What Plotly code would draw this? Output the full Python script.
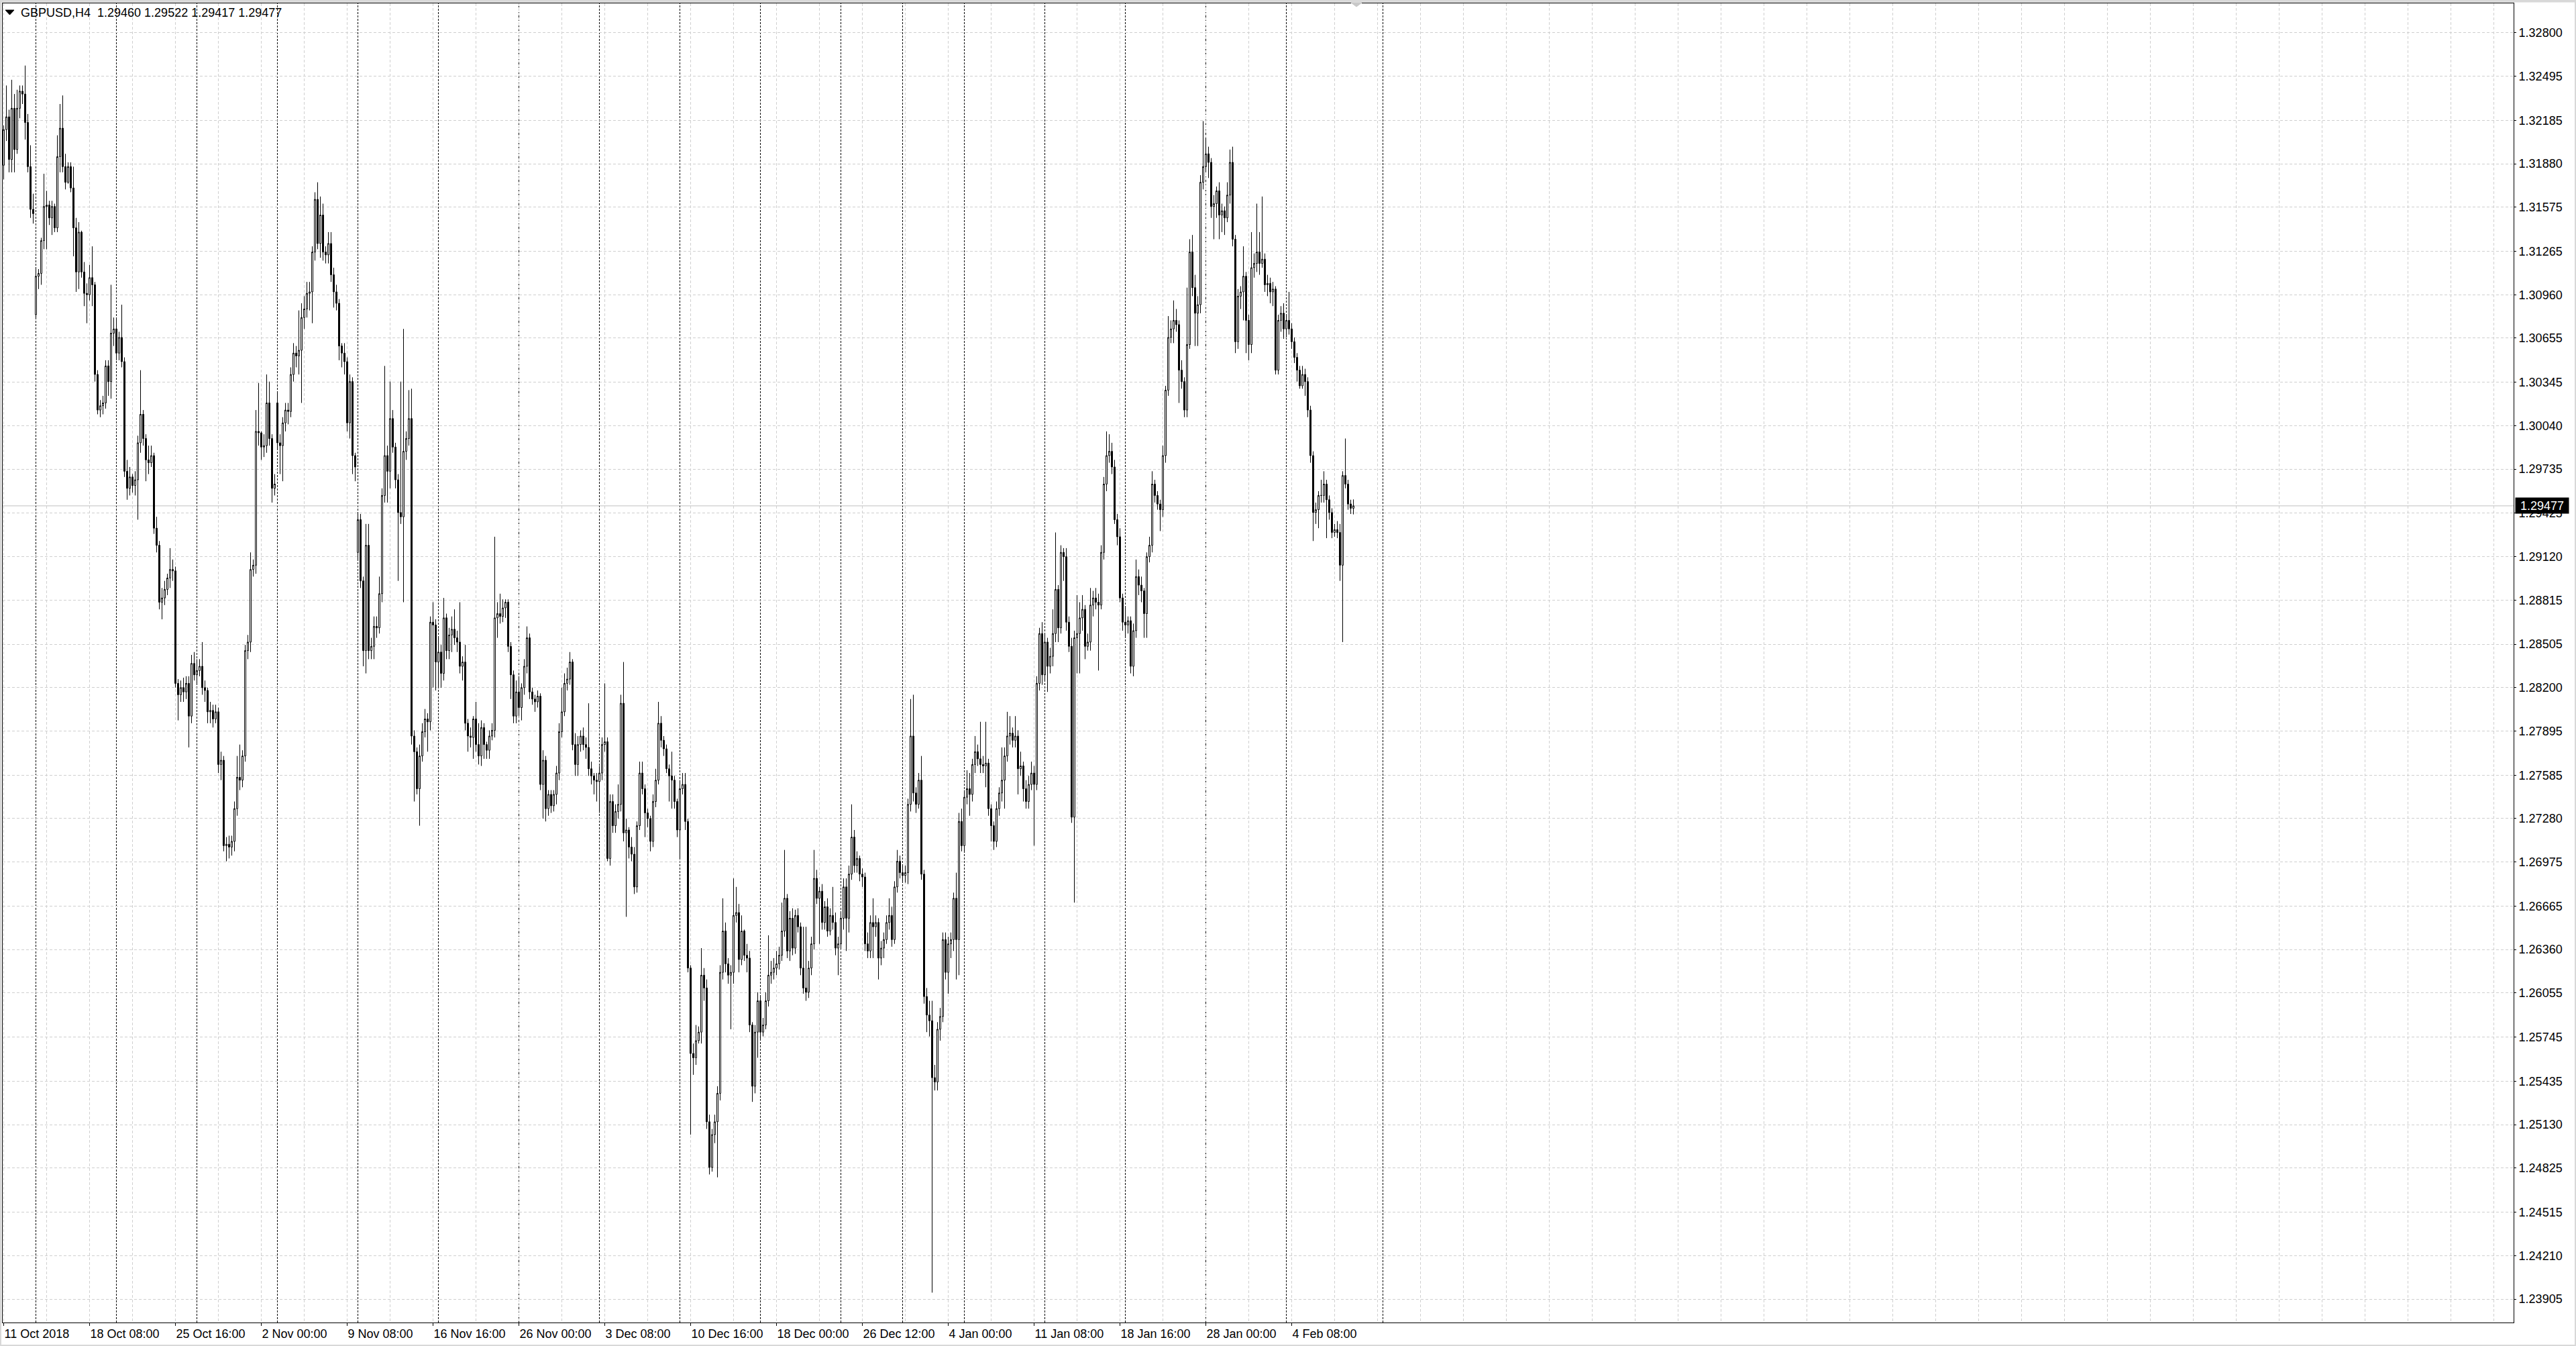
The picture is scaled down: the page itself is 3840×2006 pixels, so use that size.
import plotly.graph_objects as go

# ---------------- data (prices x 10^4), one candle per H4 bar ----------------
open_ = [
    # 11-12 Oct
    13187,13212,13221,13191,13227,13198,13227,13239,13237,13217,13186,13156,
    # 15-19 Oct
    13082,13109,13111,13134,13158,13159,13150,13158,13143,13193,13213,13186,13175,13186,13171,13143,13112,13140,13112,13097,13096,13108,13103,13040,13015,13018,13020,13046,13035,13069,
    # 22-26 Oct
    13072,13055,13066,13049,12972,12960,12968,12962,12966,12992,13012,12995,12980,12978,12983,12932,12920,12880,12883,12889,12897,12903,12902,12823,12815,12820,12817,12823,12800,12837,
    # 29 Oct - 2 Nov
    12829,12832,12835,12820,12818,12803,12804,12798,12803,12766,12769,12709,12710,12708,12712,12735,12757,12755,12772,12846,12852,12903,12906,13000,12999,12989,12990,13020,12995,12960,
    # 5-9 Nov
    13020,12992,12990,13006,13015,13014,13040,13055,13053,13057,13080,13086,13097,13098,13126,13163,13132,13152,13126,13124,13132,13110,13098,13090,13060,13055,13049,13006,13035,12983,
    # 12-16 Nov
    12915,12938,12895,12846,12920,12846,12849,12863,12862,12886,12955,12983,12972,13009,12989,12966,12943,12940,12986,12995,13009,12786,12775,12749,12772,12789,12798,12796,12866,12864,
    # 19-23 Nov
    12838,12845,12830,12869,12846,12857,12861,12855,12852,12835,12838,12795,12786,12785,12798,12780,12772,12792,12780,12776,12786,12790,12869,12872,12870,12876,12880,12849,12829,12800,
    # 26-30 Nov
    12817,12806,12820,12835,12855,12817,12812,12810,12814,12752,12769,12735,12745,12737,12745,12760,12789,12803,12823,12826,12838,12780,12766,12780,12786,12780,12778,12763,12758,12755,
    # 3-7 Dec
    12754,12760,12780,12782,12700,12740,12723,12733,12738,12809,12718,12720,12708,12703,12680,12723,12760,12749,12732,12728,12712,12740,12755,12795,12783,12777,12763,12758,12755,12740,
    # 10-14 Dec
    12720,12749,12752,12726,12623,12563,12560,12572,12578,12618,12609,12515,12483,12506,12515,12535,12620,12649,12626,12618,12620,12660,12662,12629,12649,12632,12630,12583,12540,12578,
    # 17-21 Dec
    12600,12578,12583,12600,12618,12620,12623,12626,12632,12649,12672,12635,12658,12637,12660,12652,12623,12609,12606,12623,12640,12686,12672,12677,12655,12666,12649,12660,12655,12637,
    # 24-28 Dec
    12640,12658,12680,12658,12689,12715,12695,12700,12689,12687,12640,12635,12655,12652,12655,12630,12637,12643,12655,12660,12643,12680,12698,
    # 31 Dec - 4 Jan
    12690,12688,12690,12738,12786,12746,12738,12755,12689,12603,12590,12586,12546,12543,12580,12589,12643,12620,12640,12643,12672,12643,12726,
    # 7-11 Jan
    12709,12743,12749,12745,12766,12775,12770,12766,12765,12767,12735,12723,12712,12735,12746,12755,12772,12786,12788,12783,12786,12763,12765,12749,12740,12752,12760,12752,12823,12858,
    # 14-18 Jan
    12829,12852,12835,12842,12858,12889,12862,12915,12912,12866,12849,12729,12855,12858,12869,12875,12849,12852,12878,12883,12880,12878,12915,12963,12983,12986,12975,12938,12926,12883,
    # 21-25 Jan
    12866,12864,12867,12835,12860,12898,12892,12888,12872,12912,12920,12963,12955,12949,12945,12983,13029,13066,13072,13078,13075,13043,13035,13015,13061,13126,13101,13083,13089,13175,
    # 28 Jan - 1 Feb
    13186,13195,13189,13158,13160,13169,13152,13155,13150,13166,13189,13135,13063,13095,13098,13109,13078,13061,13115,13118,13126,13118,13121,13103,13104,13098,13100,13043,13078,13083,
    # 4-8 Feb
    13072,13078,13072,13063,13052,13043,13032,13040,13035,13015,12983,12943,12945,12955,12955,12963,12952,12943,12929,12931,12929,12906,12969,12963,12949,12946.0,
]
high = [
    13215,13243,13226,13247,13237,13240,13243,13243,13257,13223,13201,13167,
    13114,13114,13136,13181,13169,13162,13162,13160,13208,13230,13236,13195,13189,13189,13186,13150,13147,13141,13119,13104,13117,13130,13105,13043,13022,13025,13050,13050,13103,13080,
    13080,13070,13089,13052,12980,12975,12970,12972,12997,13043,13015,12998,12990,12990,12985,12940,12923,12890,12895,12900,12918,12910,12905,12826,12825,12827,12828,12828,12843,12845,
    12840,12840,12852,12825,12820,12810,12808,12808,12806,12775,12772,12715,12716,12716,12740,12772,12780,12776,12850,12857,12915,12910,13015,13034,13000,12998,13040,13035,12998,12970,
    13027,12998,13010,13020,13020,13045,13062,13060,13085,13090,13095,13105,13105,13130,13168,13175,13165,13160,13130,13140,13140,13115,13103,13093,13062,13062,13052,13040,13038,12985,
    12942,12942,12898,12935,12935,12855,12870,12870,12898,12960,13046,12990,13035,13015,12992,12970,13035,13072,13000,13029,13030,12790,12778,12780,12795,12805,12802,12870,12880,12868,
    12855,12850,12883,12872,12862,12870,12875,12860,12880,12842,12850,12798,12792,12800,12810,12795,12797,12795,12782,12790,12795,12926,12880,12886,12882,12882,12882,12852,12832,12825,
    12828,12823,12840,12863,12858,12820,12815,12818,12816,12776,12772,12748,12748,12748,12765,12795,12820,12830,12834,12845,12840,12788,12786,12790,12792,12785,12809,12768,12760,12760,
    12765,12785,12823,12785,12745,12745,12738,12752,12815,12838,12728,12722,12715,12708,12726,12768,12768,12752,12735,12730,12745,12763,12810,12800,12786,12780,12766,12775,12758,12742,
    12755,12760,12760,12728,12625,12570,12583,12582,12637,12623,12615,12520,12510,12520,12540,12625,12672,12655,12630,12625,12686,12680,12668,12660,12650,12640,12635,12585,12583,12606,
    12603,12588,12606,12646,12628,12630,12635,12638,12669,12706,12675,12663,12665,12664,12665,12655,12652,12652,12628,12645,12706,12692,12680,12682,12670,12672,12665,12680,12662,12645,
    12662,12686,12686,12695,12738,12720,12705,12702,12693,12690,12648,12660,12672,12660,12658,12642,12648,12660,12672,12666,12684,12706,12702,
    12695,12695,12742,12812,12815,12750,12760,12772,12692,12609,12600,12600,12555,12585,12595,12648,12648,12645,12648,12676,12690,12732,12735,
    12748,12762,12760,12770,12786,12780,12796,12772,12796,12770,12738,12726,12740,12750,12778,12778,12803,12800,12792,12800,12790,12775,12768,12755,12758,12768,12765,12828,12862,12866,
    12858,12855,12848,12875,12929,12892,12920,12918,12918,12870,12855,12860,12885,12880,12885,12878,12858,12890,12888,12890,12886,12920,12968,13000,12998,12992,12980,12942,12932,12886,
    12876,12870,12870,12865,12910,12903,12898,12890,12915,12926,12972,12966,12958,12952,12990,13032,13081,13078,13092,13086,13078,13050,13038,13101,13135,13138,13110,13095,13180,13218,
    13206,13200,13192,13166,13172,13175,13160,13158,13175,13198,13200,13138,13100,13102,13130,13112,13082,13140,13125,13160,13140,13165,13125,13110,13108,13105,13102,13082,13088,13090,
    13082,13098,13076,13066,13055,13046,13046,13044,13038,13018,12986,12950,12958,12966,12972,12966,12955,12946,12935,12937,12935,12972,12995,12966,12952,12952.2,
]
low = [
    13177,13204,13182,13182,13182,13195,13220,13230,13205,13182,13150,13146,
    13080,13100,13103,13128,13128,13145,13138,13140,13140,13182,13182,13170,13174,13168,13123,13098,13100,13108,13088,13076,13092,13088,13035,13012,13010,13012,13016,13025,13023,13060,
    13050,13050,13045,12968,12952,12955,12957,12955,12938,12985,12990,12965,12970,12975,12928,12915,12875,12868,12878,12885,12890,12895,12820,12797,12810,12810,12812,12778,12795,12825,
    12822,12828,12815,12810,12795,12795,12792,12795,12760,12755,12705,12698,12700,12702,12705,12730,12748,12750,12768,12840,12845,12898,12900,12990,12980,12982,12985,12990,12950,12955,
    12988,12970,12965,13000,13005,13010,13035,13045,13040,13020,13072,13080,13085,13076,13120,13128,13122,13120,13118,13118,13105,13087,13085,13050,13045,13040,13000,12995,12970,12965,
    12910,12890,12835,12830,12840,12840,12840,12855,12858,12880,12950,12950,12960,12985,12960,12895,12935,12880,12980,12990,12780,12740,12745,12723,12768,12785,12775,12790,12820,12818,
    12820,12820,12825,12840,12840,12845,12850,12845,12830,12825,12790,12775,12778,12770,12775,12766,12765,12770,12770,12770,12783,12785,12855,12865,12866,12869,12845,12812,12795,12795,
    12800,12797,12815,12830,12812,12808,12803,12806,12748,12728,12726,12730,12732,12733,12738,12755,12785,12800,12818,12822,12776,12758,12758,12775,12776,12770,12758,12752,12745,12740,
    12732,12755,12775,12698,12695,12718,12718,12728,12733,12712,12659,12700,12698,12675,12676,12720,12745,12715,12722,12705,12708,12736,12752,12778,12772,12760,12740,12735,12735,12715,
    12700,12745,12720,12620,12506,12548,12555,12570,12570,12600,12510,12478,12480,12500,12476,12530,12615,12620,12612,12580,12612,12655,12620,12625,12628,12620,12578,12529,12535,12560,
    12572,12575,12580,12596,12612,12615,12618,12622,12628,12645,12630,12628,12632,12633,12648,12618,12605,12600,12602,12618,12636,12668,12640,12650,12650,12645,12646,12650,12632,12618,
    12636,12650,12635,12648,12685,12690,12690,12684,12680,12635,12630,12630,12630,12645,12615,12625,12630,12640,12650,12638,12640,12676,12686,
    12684,12683,12682,12733,12740,12732,12735,12685,12598,12578,12575,12395,12537,12537,12572,12585,12615,12605,12630,12635,12615,12618,12705,
    12705,12738,12730,12740,12760,12765,12760,12760,12750,12730,12712,12706,12708,12730,12740,12735,12768,12780,12778,12778,12745,12758,12740,12735,12735,12748,12709,12748,12818,12822,
    12825,12817,12830,12835,12852,12852,12858,12895,12860,12845,12725,12669,12830,12830,12860,12840,12846,12846,12870,12875,12832,12875,12910,12958,12978,12970,12935,12920,12880,12860,
    12855,12858,12830,12828,12855,12885,12880,12855,12855,12908,12915,12950,12945,12930,12940,12978,13025,13062,13062,13070,13020,13030,13010,13010,13058,13095,13060,13060,13083,13170,
    13182,13178,13150,13135,13150,13135,13140,13138,13147,13160,13130,13055,13058,13086,13078,13055,13050,13055,13108,13112,13110,13115,13098,13095,13090,13088,13040,13040,13070,13065,
    13066,13068,13058,13048,13035,13030,13030,13025,13010,12978,12923,12935,12932,12950,12950,12925,12938,12925,12926,12925,12895,12852,12960,12945,12942,12941.7,
]
close = [
    13212,13221,13191,13227,13198,13227,13239,13237,13217,13186,13156,13153,
    13109,13111,13134,13158,13159,13150,13158,13143,13193,13213,13186,13175,13186,13171,13143,13112,13140,13112,13097,13096,13108,13103,13040,13015,13018,13020,13046,13035,13069,13072,
    13055,13066,13049,12972,12960,12968,12962,12966,12992,13012,12995,12980,12978,12983,12932,12920,12880,12883,12889,12897,12903,12902,12823,12815,12820,12817,12823,12800,12837,12829,
    12832,12835,12820,12818,12803,12804,12798,12803,12766,12769,12709,12710,12708,12712,12735,12757,12755,12772,12846,12852,12903,12906,13000,12999,12989,12990,13020,12995,12960,12963,
    12992,12990,13006,13015,13014,13040,13055,13053,13057,13080,13086,13097,13098,13126,13163,13132,13152,13126,13124,13132,13110,13098,13090,13060,13055,13049,13006,13035,12983,12975,
    12938,12895,12846,12920,12846,12849,12863,12862,12886,12955,12983,12972,13009,12989,12966,12943,12940,12986,12995,13009,12786,12775,12749,12772,12789,12798,12796,12866,12864,12838,
    12845,12830,12869,12846,12857,12861,12855,12852,12835,12838,12795,12786,12785,12798,12780,12772,12792,12780,12776,12786,12790,12869,12872,12870,12876,12880,12849,12829,12800,12817,
    12806,12820,12835,12855,12817,12812,12810,12814,12752,12769,12735,12745,12737,12745,12760,12789,12803,12823,12826,12838,12780,12766,12780,12786,12780,12778,12763,12758,12755,12754,
    12760,12780,12782,12700,12740,12723,12733,12738,12809,12718,12720,12708,12703,12680,12723,12760,12749,12732,12728,12712,12740,12755,12795,12783,12777,12763,12758,12755,12740,12720,
    12749,12752,12726,12623,12563,12560,12572,12578,12618,12609,12515,12483,12506,12515,12535,12620,12649,12626,12618,12620,12660,12662,12629,12649,12632,12630,12583,12540,12578,12600,
    12578,12583,12600,12618,12620,12623,12626,12632,12649,12672,12635,12658,12637,12660,12652,12623,12609,12606,12623,12640,12686,12672,12677,12655,12666,12649,12660,12655,12637,12640,
    12658,12680,12658,12689,12715,12695,12700,12689,12687,12640,12635,12655,12652,12655,12630,12637,12643,12655,12660,12643,12680,12698,12690,
    12688,12690,12738,12786,12746,12738,12755,12689,12603,12590,12586,12546,12543,12580,12589,12643,12620,12640,12643,12672,12643,12726,12709,
    12743,12749,12745,12766,12775,12770,12766,12765,12767,12735,12723,12712,12735,12746,12755,12772,12786,12788,12783,12786,12763,12765,12749,12740,12752,12760,12752,12823,12858,12829,
    12852,12835,12842,12858,12889,12862,12915,12912,12866,12849,12729,12855,12858,12869,12875,12849,12852,12878,12883,12880,12878,12915,12963,12983,12986,12975,12938,12926,12883,12866,
    12864,12867,12835,12860,12898,12892,12888,12872,12912,12920,12963,12955,12949,12945,12983,13029,13066,13072,13078,13075,13043,13035,13015,13061,13126,13101,13083,13089,13175,13186,
    13195,13189,13158,13160,13169,13152,13155,13150,13166,13189,13135,13063,13095,13098,13109,13078,13061,13115,13118,13126,13118,13121,13103,13104,13098,13100,13043,13078,13083,13072,
    13078,13072,13063,13052,13043,13032,13040,13035,13015,12983,12943,12945,12955,12955,12963,12952,12943,12929,12931,12929,12906,12969,12963,12949,12946,12947.7,
]

price_ticks = [1.32800, 1.32495, 1.32185, 1.31880, 1.31575, 1.31265, 1.30960, 1.30655,
               1.30345, 1.30040, 1.29735, 1.29425, 1.29120, 1.28815, 1.28505, 1.28200,
               1.27895, 1.27585, 1.27280, 1.26975, 1.26665, 1.26360, 1.26055, 1.25745,
               1.25435, 1.25130, 1.24825, 1.24515, 1.24210, 1.23905]
time_tick_bars = [0, 32, 64, 96, 128, 160, 192, 224, 256, 288, 320, 352, 384, 416, 448, 480]
time_tick_text = ["11 Oct 2018", "18 Oct 08:00", "25 Oct 16:00", "2 Nov 00:00", "9 Nov 08:00",
                  "16 Nov 16:00", "26 Nov 00:00", "3 Dec 08:00", "10 Dec 16:00", "18 Dec 00:00",
                  "26 Dec 12:00", "4 Jan 00:00", "11 Jan 08:00", "18 Jan 16:00", "28 Jan 00:00",
                  "4 Feb 08:00"]
week_start_bars = [12, 42, 72, 102, 132, 162, 192, 222, 252, 282, 312, 335, 358, 388, 418, 448, 478, 514]
symbol = "GBPUSD,H4"
last_ohlc = ["1.29460", "1.29522", "1.29417", "1.29477"]
bid_price = 1.29477

# ---------------- build ----------------
n = len(open_)
assert n == len(high) == len(low) == len(close)
SCALE = 10000.0
o = [v / SCALE for v in open_]
c = [v / SCALE for v in close]
h = [max(a, b, d) / SCALE for a, b, d in zip(high, open_, close)]
l = [min(a, b, d) / SCALE for a, b, d in zip(low, open_, close)]
x = list(range(n))

W, H = 3840, 2006
ML, MR, MT, MB = 4, 93, 5, 35
PW = W - ML - MR
PH = H - MT - MB
BAR_PX = 4.0
X0 = -0.375
XRANGE = [X0, X0 + PW / BAR_PX]
YRANGE = [1.23740, 1.33007]

FONT = "Liberation Sans, Arial, sans-serif"
FS = 18
GRID = "#cfcfcf"


def px_x(p):
    return (p - ML) / PW


def px_y(r):
    return (H - MB - r) / PH


fig = go.Figure(go.Candlestick(
    x=x, open=o, high=h, low=l, close=c,
    increasing=dict(line=dict(color="black", width=1), fillcolor="white"),
    decreasing=dict(line=dict(color="black", width=1), fillcolor="black"),
    whiskerwidth=0, hoverinfo="none", showlegend=False,
))

minor_vals = [v for v in range(0, 940, 16) if v not in time_tick_bars]

shapes = []
# weekly period separators
for b in week_start_bars:
    shapes.append(dict(type="line", xref="x", yref="paper", x0=b, x1=b, y0=0, y1=1,
                       line=dict(color="black", width=1, dash="3px,2px"), layer="between"))
# bid line
shapes.append(dict(type="line", xref="paper", yref="y", x0=0, x1=1, y0=bid_price, y1=bid_price,
                   line=dict(color="#c0c0c0", width=1), layer="between"))
# window frame strips
frame = "#d8d8d8"
shapes += [
    dict(type="rect", xref="paper", yref="paper", x0=px_x(0), x1=px_x(W), y0=px_y(0), y1=px_y(3.5),
         fillcolor=frame, line=dict(width=0), layer="above"),
    dict(type="rect", xref="paper", yref="paper", x0=px_x(W - 2), x1=px_x(W), y0=px_y(0), y1=px_y(H),
         fillcolor=frame, line=dict(width=0), layer="above"),
    dict(type="rect", xref="paper", yref="paper", x0=px_x(0), x1=px_x(W), y0=px_y(H - 2), y1=px_y(H),
         fillcolor=frame, line=dict(width=0), layer="above"),
    dict(type="rect", xref="paper", yref="paper", x0=px_x(0), x1=px_x(2), y0=px_y(0), y1=px_y(H),
         fillcolor=frame, line=dict(width=0), layer="above"),
]
# title triangle
tri = "M {a},{b} L {c},{b} L {d},{e} Z".format(a=px_x(8), b=px_y(15), c=px_x(21), d=px_x(14.5), e=px_y(22))
shapes.append(dict(type="path", xref="paper", yref="paper", path=tri, fillcolor="black",
                   line=dict(color="black", width=1), layer="above"))
# chart shift marker
mk = "M {a},{b} L {c},{b} L {d},{e} Z".format(a=px_x(2014), b=px_y(4), c=px_x(2030), d=px_x(2022), e=px_y(10))
shapes.append(dict(type="path", xref="paper", yref="paper", path=mk, fillcolor="#c8c8c8",
                   line=dict(color="#c8c8c8", width=1), layer="above"))

annotations = [
    dict(xref="paper", yref="paper", x=px_x(30), y=px_y(19.5), xanchor="left", yanchor="middle",
         text=symbol + "\u00a0\u00a0" + " ".join(last_ohlc), showarrow=False, borderpad=0,
         font=dict(family=FONT, size=FS, color="black")),
    dict(xref="paper", yref="y", x=px_x(3749), y=bid_price, xanchor="left", yanchor="middle",
         text="{:.5f}".format(bid_price), showarrow=False, bgcolor="black", borderpad=1,
         width=77, height=21, align="center",
         font=dict(family=FONT, size=FS, color="white")),
]

fig.update_layout(
    width=W, height=H,
    margin=dict(l=ML, r=MR, t=MT, b=MB, pad=0),
    paper_bgcolor="white", plot_bgcolor="white",
    boxgap=0.5, boxgroupgap=0,
    showlegend=False, dragmode=False, hovermode=False,
    font=dict(family=FONT, size=FS, color="black"),
    shapes=shapes, annotations=annotations,
    xaxis=dict(
        type="linear", range=XRANGE, autorange=False,
        rangeslider=dict(visible=False),
        tickmode="array", tickvals=time_tick_bars, ticktext=time_tick_text,
        ticklabelposition="outside right", tickangle=0,
        ticks="outside", ticklen=4, tickwidth=1, tickcolor="black",
        tickfont=dict(family=FONT, size=FS, color="black"),
        showgrid=True, gridcolor=GRID, griddash="4px,3px", gridwidth=1,
        minor=dict(tickvals=minor_vals, showgrid=True, gridcolor=GRID, griddash="4px,3px",
                   gridwidth=1, ticks=""),
        showline=True, linecolor="black", linewidth=1, mirror=True,
        zeroline=False, fixedrange=True,
    ),
    yaxis=dict(
        side="right", range=YRANGE, autorange=False,
        tickmode="array", tickvals=price_ticks, ticktext=["{:.5f}".format(v) for v in price_ticks],
        ticks="outside", ticklen=3, tickwidth=1, tickcolor="black",
        tickfont=dict(family=FONT, size=FS, color="black"),
        showgrid=True, gridcolor=GRID, griddash="4px,3px", gridwidth=1,
        showline=True, linecolor="black", linewidth=1, mirror=True,
        zeroline=False, fixedrange=True,
    ),
)

fig.write_html(
    "out.html",
    config={"displayModeBar": False, "staticPlot": True},
    post_script="document.body.style.margin='0';document.body.style.padding='0';"
                "document.body.style.overflow='hidden';",
)
